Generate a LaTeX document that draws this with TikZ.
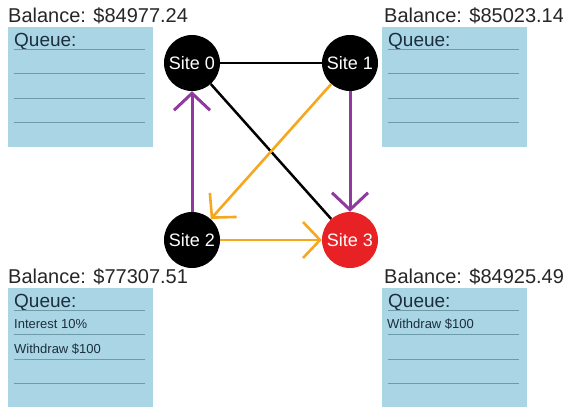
\documentclass[tikz,border=0pt]{standalone}
\usepackage{fontspec}
\setmainfont{Liberation Sans}
\usetikzlibrary{arrows.meta}
\definecolor{qfill}{HTML}{A9D5E4}
\definecolor{qrulecol}{HTML}{6E9BAA}
\definecolor{qtext}{HTML}{1B2F3E}
\definecolor{edgepurple}{HTML}{8E3A9E}
\definecolor{edgeorange}{HTML}{F5A81E}
\definecolor{sitered}{HTML}{E82224}
\tikzset{
  site/.style={circle, fill=black, minimum size=56pt, inner sep=0pt,
    text=white, font=\fontsize{18}{18}\selectfont},
  qbox/.style={fill=qfill, minimum width=145pt, minimum height=120pt,
    inner sep=0pt, anchor=north west},
  balance/.style={anchor=base west, inner sep=0pt,
    font=\fontsize{20}{20}\selectfont, text=black!85},
  qtitle/.style={anchor=base west, inner sep=0pt,
    font=\fontsize{19}{19}\selectfont, text=qtext},
  qitem/.style={anchor=base west, inner sep=0pt,
    font=\fontsize{13}{13}\selectfont, text=qtext},
  qrule/.style={draw=qrulecol, line width=1pt},
  link/.style={line width=2.5pt},
  flow/.style={line width=3pt, -{Straight Barb[length=17pt,width=36pt]}},
}
\begin{document}
\begin{tikzpicture}[x=1pt, y=-1pt]
  \useasboundingbox (0,0) rectangle (563,407);

  % queue panels, one per site
  \node[qbox] (q0) at (8,27) {};
  \node[qbox] (q1) at (382,27) {};
  \node[qbox] (q2) at (8,288) {};
  \node[qbox] (q3) at (382,288) {};

  \node[balance] (b0) at ([shift={(0,-5)}]q0.north west) {Balance: \$84977.24};
  \node[balance] (b1) at ([shift={(2,-5)}]q1.north west) {Balance: \$85023.14};
  \node[balance] (b2) at ([shift={(0,-5)}]q2.north west) {Balance: \$77307.51};
  \node[balance] (b3) at ([shift={(2,-5)}]q3.north west) {Balance: \$84925.49};

  \foreach \q in {q0,q1,q2,q3}{
    \node[qtitle] at ([shift={(6,19)}]\q.north west) {Queue:};
    \foreach \dy in {22,46,71,95}
      \draw[qrule] ([shift={(6,\dy)}]\q.north west) -- ++(131,0);
  }

  \node[qitem] (i20) at ([shift={(6,40)}]q2.north west) {Interest 10\%};
  \node[qitem] (i21) at ([shift={(6,65)}]q2.north west) {Withdraw \$100};
  \node[qitem] (i30) at ([shift={(5,40)}]q3.north west) {Withdraw \$100};

  % sites
  \node[site] (s0) at (192,63) {Site 0};
  \node[site] (s1) at (350,63) {Site 1};
  \node[site] (s2) at (192,240) {Site 2};
  \node[site, fill=sitered] (s3) at (350,240) {Site 3};

  % links and transfers
  \draw[link] (s0) -- (s1);
  \draw[link] (s0) -- (s3);
  \draw[flow, edgepurple] (s1) -- (s3);
  \draw[flow, edgepurple] (s2) -- (s0);
  \draw[flow, edgeorange, line width=2.6pt] (s1) -- (s2);
  \draw[flow, edgeorange, line width=2.6pt] (s2) -- (s3);
\end{tikzpicture}
\end{document}
